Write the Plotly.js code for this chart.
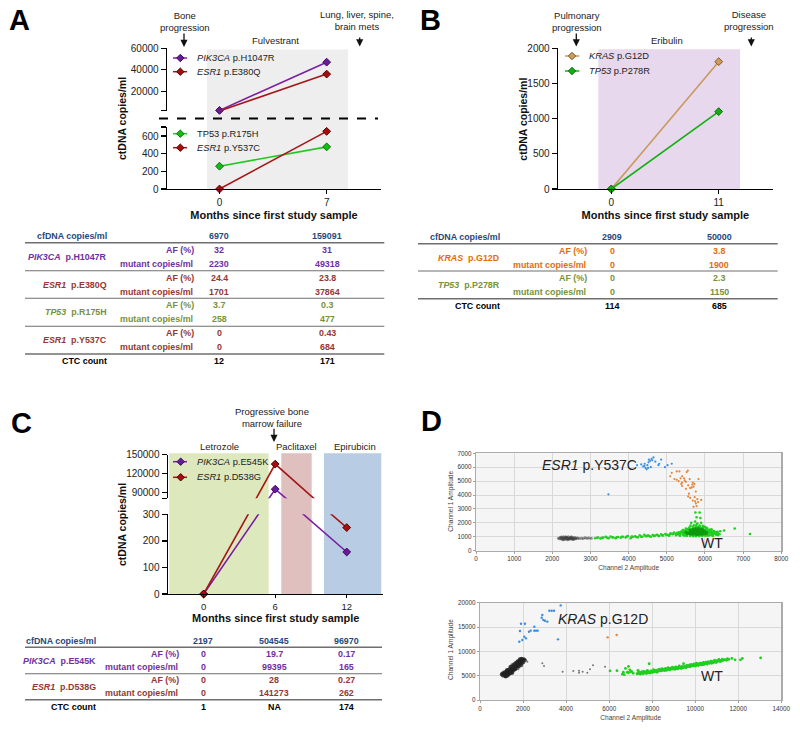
<!DOCTYPE html>
<html><head><meta charset="utf-8">
<script src="https://cdn.plot.ly/plotly-3.0.1.min.js"></script>
<style>html,body{margin:0;padding:0;background:#fff}#c{width:800px;height:730px}</style>
</head><body><div id="c"></div>
<script>
/* ---------- Panel A data ---------- */
const monthsA = [0, 7];
const pik3caH1047R = [2230, 47100];
const esr1E380Q = [1701, 36000];
const tp53R175H = [258, 477];
const esr1Y537C = [0, 653];
const tableAcols = ['6970', '159091'];
const tableArows = [
  {gene:'<i>PIK3CA</i>  p.H1047R', color:'#7030a0', af:['32','31'], mut:['2230','49318']},
  {gene:'<i>ESR1</i>  p.E380Q', color:'#953735', af:['24.4','23.8'], mut:['1701','37864']},
  {gene:'<i>TP53</i>  p.R175H', color:'#76923c', af:['3.7','0.3'], mut:['258','477']},
  {gene:'<i>ESR1</i>  p.Y537C', color:'#953735', af:['0','0.43'], mut:['0','684']}
];
const tableActc = ['12','171'];

/* ---------- Panel B data ---------- */
const monthsB = [0, 11];
const krasG12D = [0, 1810];
const tp53P278R = [0, 1100];
const tableBcols = ['2909', '50000'];
const tableBrows = [
  {gene:'<i>KRAS</i>  p.G12D', color:'#e36c0a', af:['0','3.8'], mut:['0','1900']},
  {gene:'<i>TP53</i>  p.P278R', color:'#76923c', af:['0','2.3'], mut:['0','1150']}
];
const tableBctc = ['114','685'];

/* ---------- Panel C data ---------- */
const monthsC = [0, 6, 12];
// Values as the two halves of the broken axis plot them (each half clipped by its own axis range)
const pik3caE545Klower = [0, 392, 158];
const esr1D538Glower = [0, 482, 250];
const pik3caE545Kupper = [-72400, 95000, -1600];
const esr1D538Gupper = [-70800, 135000, 33800];
const tableCcols = ['2197', '504545', '96970'];
const tableCrows = [
  {gene:'<i>PIK3CA</i>  p.E545K', color:'#7030a0', af:['0','19.7','0.17'], mut:['0','99395','165']},
  {gene:'<i>ESR1</i>  p.D538G', color:'#953735', af:['0','28','0.27'], mut:['0','141273','262']}
];
const tableCctc = ['1','NA','174'];

/* ---------- Panel D data: droplets ---------- */
const d1BlueX = [4220,4330,4380,4410,4420,4440,4470,4490,4510,4520,4530,4560,4580,4600,4620,4650,4700,4780,4800,4850,4950,5020,5130,3470];
const d1BlueY = [6150,6200,6050,6100,6250,5950,5850,6150,5950,6350,6550,6450,6000,6600,6500,6700,6400,6150,6250,6550,6000,6150,6250,4050];
const d1OrangeX = [5090,5130,5200,5260,5260,5330,5310,5360,5380,5400,5400,5400,5450,5470,5500,5520,5550,5500,5560,5600,5610,5650,5670,5680,5700,5720,5580,5560,5610,5680,5730,5740,5760,5760,5800,5820,5780,5700,5900,5830];
const d1OrangeY = [5350,5600,5150,5100,5700,5700,5000,5200,4800,5350,4650,4900,5200,5050,4950,5650,5750,4450,4700,5150,4500,4550,4750,4900,4600,4800,4100,3900,3800,3600,3850,3550,3400,4250,3700,3500,3200,3150,3650,5150];
const d1GreenX = [3120,3170,3200,3260,3300,3340,3400,3440,3480,3530,3570,3600,3660,3690,3720,3790,3820,3850,3920,3950,3980,4050,4080,4110,4170,4200,4240,4290,4330,4360,4410,4440,4470,4510,4550,4580,4630,4660,4690,4740,4770,4800,4850,4880,4900,4960,4990,5010,5060,5080,5100,5150,5170,5190,5230,5270,
 5240,5290,5320,5350,5380,5410,5440,5470,5490,5520,5540,5570,5590,5620,5640,5670,5690,5720,5740,5770,5790,5820,5840,5870,5890,5920,5940,5970,5990,6020,6040,6070,6090,6120,6140,6170,6200,6230,6260,6290,6330,
 5360,5430,5510,5580,5660,5730,5810,5880,5960,6030,6110,6180,6260,5300,5400,5480,5560,5640,5720,5800,5880,5960,6040,6120,6200,
 5450,5530,5610,5690,5760,5850,5930,6010,6090,6170,5500,5590,5680,5770,5860,5950,6040,5620,5710,5780,5860,5940,
 5750,5860,5780,5880,5640,5740,5800,5900,6780,7180,6500,6400,
 5250,5310,5370,5430,5480,5530,5270,5340,5400,5460,5520,5590,5350,5420,5490,5550,6000,6060,6120,6170,6230,6290,6340,6380,6050,6110,6160,6220,6280,6340,6100,6160,6210,6270];
const d1GreenY = [900,930,950,880,920,950,1000,920,900,1020,960,950,900,960,980,930,1000,1000,950,1010,1050,900,1010,1000,1030,980,960,1100,1010,1000,1150,1050,1050,1100,1040,1000,1120,1060,1080,1150,1090,1050,1180,1110,1100,1200,1120,1150,1080,1180,1250,1180,1230,1300,1200,1280,
 1120,1180,1320,1210,1380,1260,1190,1440,1290,1130,1500,1210,1380,1120,1560,1300,1180,1620,1250,1440,1120,1680,1340,1120,1560,1260,1640,1150,1450,1270,1560,1130,1400,1230,1480,1330,1200,1400,1270,1150,1350,
 1280,1340,1420,1480,1540,1600,1640,1620,1560,1490,1430,1360,1290,1230,1300,1350,1400,1470,1520,1560,1520,1460,1400,1330,1260,
 1090,1080,1060,1050,1040,1050,1060,1070,1090,1110,1590,1660,1720,1760,1740,1700,1640,1800,1830,1880,1810,1790,
 2750,2750,2400,2350,2000,2100,1950,2000,1600,1200,1450,1400,
 1140,1200,1260,1150,1300,1350,1240,1090,1360,1230,1440,1510,1070,1480,1100,1560,1710,1600,1500,1540,1410,1330,1250,1180,1090,1120,1280,1200,1320,1120,1450,1390,1060,1220];
const d1DarkX = [5500,5560,5620,5680,5710,5740,5770,5800,5820,5850,5880,5910,5940,5970,6000,6050,5650,5700,5760,5810,5860,5900,5950,5720,5780,5840,5890,5540,5600,5660,5730,5790,5850,5920,5980,6030,5610,5690,5760,5830,5910,5990];
const d1DarkY = [1320,1280,1350,1300,1450,1250,1400,1300,1500,1350,1250,1450,1320,1400,1280,1300,1420,1250,1550,1380,1500,1350,1480,1350,1200,1250,1420,1230,1210,1180,1180,1170,1180,1190,1210,1230,1480,1540,1600,1590,1560,1400];
const d1GreyX = [2160,2190,2210,2230,2250,2270,2290,2300,2320,2340,2350,2370,2390,2400,2420,2430,2450,2470,2480,2500,2520,2530,2550,2570,2590,2610,2630,2660,2700,2240,2280,2330,2380,2410,2460,2510,2560,2760,2810,2860,2910,2960,3020];
const d1GreyY = [900,850,960,880,820,930,1000,870,800,950,1010,840,900,780,1000,880,820,950,850,1000,880,800,930,860,950,850,900,920,880,980,790,890,960,860,900,950,830,900,880,930,890,920,900];
const d2BlueX = [1827,1967,2060,2137,1858,1905,2090,2276,2354,2524,2602,2679,2524,2865,2896,2942,3020,3128,3221,3330,3438,3748,3624];
const d2BlueY = [11985,12330,13010,12670,14180,15680,15680,14040,14250,14250,14250,14250,15070,16920,17470,16440,16300,16100,18360,18360,18360,19450,12470];
const d2OrangeX = [5931,6350];
const d2OrangeY = [12880,13360];
const d2GreyX = [1000,1050,1100,1100,1150,1150,1200,1200,1250,1250,1300,1300,1350,1350,1400,1400,1450,1450,1500,1500,1550,1550,1600,1600,1650,1650,1700,1700,1750,1750,1800,1800,1850,1850,1900,1900,1950,1950,2000,2050,2100,1200,1300,1400,1500,1600,1700,1800,1900,1080,1280,1480,1680,1880,
 1020,1120,1180,1260,1340,1420,1520,1620,1720,1820,1920,2020,1090,1170,1240,1330,1410,1500,1580,1660,1740,1840,1930,2040,1140,1230,1320,1440,1560,1640,1780,1880,1980,1210,1360,1470,1590,1710,1830,1960];
const d2GreyY = [5250,5000,5700,5300,4900,5500,5100,5900,5400,6200,5000,5700,6000,5300,6500,5700,6100,6800,5500,6400,7000,6100,6600,7300,6300,7000,7600,6800,7200,8000,6800,7600,8200,7400,7900,8400,7500,8200,8000,8300,8150,5500,5400,6100,6000,6200,7200,7200,7400,5300,5800,6300,6700,7800,
 5450,5150,4800,5750,5550,5450,5800,6400,6500,7000,7100,7700,5500,5700,6000,6300,6900,7200,7400,7700,7900,8400,8500,8400,5200,4850,5300,6300,6500,7000,7300,7700,8400,5200,6150,5800,6900,7400,8000,7900];
const d2SparseX = [2200,1780,2896,2973,3840,4336,4600,4600,4770,4987,5110,5250,5808];
const d2SparseY = [7880,6300,7530,6990,5820,5960,6030,5620,5820,5620,6300,7120,6850];
const d2GreenX = [6040,6365,6620,6660,6700,6760,6850,6900,6960,7040,7120,7300,7340,7380,7420,7450,7500,7540,7580,7620,7660,7700,7740,7780,7820,7860,7900,7940,7980,8020,8060,8100,8140,8180,8220,8260,8300,8340,8380,8420,8460,8500,8540,8580,8620,8660,8700,8740,8780,8820,8860,8900,8940,8980,9020,9060,9100,9140,9180,9220,9260,9300,9340,9380,9420,9460,9500,9540,9580,9620,9660,9700,9740,9780,9820,9860,9900,9940,9980,10020,10060,10100,10140,10180,10220,10260,10300,10340,10380,10420,10460,10500,10540,10580,10620,10660,10700,10740,10780,10820,10860,10900,10940,10980,11020,11060,11100,11140,11180,11220,11260,11300,11340,11400,11450,11500,11560,11700,11850,12100,12190,13040,
 7400,7600,7800,8000,8200,8400,8600,8800,9000,9200,9400,9600,9800,10000,10200,10400,10600,10800,11000,11200,7880,8300,9140,10280,6900,7000,
 7360,7480,7560,7680,7760,7840,7960,8040,8120,8240,8320,8440,8520,8640,8720,8840,8960,9040,9160,9240,9360,9440,9560,9640,9760,9840,9960,10040,10160,10240,10360,10440,10560,10640,10760,10840,10960,11040,11160];
const d2GreenY = [6000,6030,5300,5700,5200,6500,5700,6900,6200,5900,5500,5400,6100,5500,5700,5300,5650,5850,5400,5900,5550,5800,5450,6100,5650,7450,5550,6000,5750,5650,6250,5800,5950,6050,5700,6200,5950,6350,6000,6150,6450,6100,6300,6050,6500,6250,6150,6650,6300,6200,6550,6400,6750,6350,6600,6300,6800,6500,6650,6450,7000,6700,6500,6850,6600,7450,6750,6950,6700,7100,6850,7050,7200,6900,7300,7050,7150,7400,7100,7000,7550,7250,7100,7450,7300,7600,7200,7500,7750,7350,7550,7800,7450,7650,7900,7550,7750,8000,7650,7850,7700,8200,7900,7750,8100,8000,8350,7950,8150,8000,8400,8150,8250,8300,8150,8500,8350,8550,8250,8250,8550,8650,
 5500,5600,5750,5850,6000,6150,6300,6450,6550,6700,6850,7000,7100,7250,7400,7550,7650,7800,7950,8050,5700,6050,6550,7350,5600,5800,
 5700,5450,5800,5620,5780,5620,5900,5820,6100,5900,6120,6000,6260,6100,6380,6250,6420,6550,6380,6700,6560,6820,6640,6960,6820,7080,7000,7300,7180,7420,7260,7600,7400,7700,7540,7860,7760,8060,7900];

/* ---------- helpers ---------- */
const W = 800, H = 730, FONT = '"Liberation Sans", Arial, sans-serif';
const fx = p => p / W, fy = p => 1 - p / H;
const anns = [], shapes = [];
function note(text, x, y, size, color, anchor, bold, extra) {
  anns.push(Object.assign({text: bold ? '<b>' + text + '</b>' : text, x: fx(x), y: fy(y), xref:'paper', yref:'paper',
    xanchor: anchor || 'center', yanchor:'middle', showarrow:false, align: anchor || 'center', borderpad:0,
    font:{family:FONT, size:size, color:color || '#222'}}, extra || {}));
}
function downArrow(x, y0, y1) {
  anns.push({text:'', x:fx(x), y:fy(y1), xref:'paper', yref:'paper', ax:0, ay:y0 - y1, axref:'pixel', ayref:'pixel',
    showarrow:true, arrowhead:2, arrowsize:1.1, arrowwidth:1.3, arrowcolor:'#111', standoff:0});
}
function pline(x0, y0, x1, y1, color, width, dash) {
  shapes.push({type:'line', xref:'paper', yref:'paper', x0:fx(x0), x1:fx(x1), y0:fy(y0), y1:fy(y1),
    line:{color:color, width:width, dash:dash || 'solid'}, layer:'above'});
}
function legendKey(x0, x1, y, xm, xt, line, fill, edge, label) {
  pline(x0, y, x1, y, line, 1.5);
  const r = 3.7;
  shapes.push({type:'path', xref:'paper', yref:'paper', layer:'above', fillcolor:fill, line:{color:edge, width:1},
    path:'M ' + fx(xm - r) + ' ' + fy(y) + ' L ' + fx(xm) + ' ' + fy(y - r) + ' L ' + fx(xm + r) + ' ' + fy(y) + ' L ' + fx(xm) + ' ' + fy(y + r) + ' Z'});
  note(label, xt, y, 9.3, '#222', 'left');
}
function band(xref, a, b, top, bottom, color) {
  shapes.push({type:'rect', xref:xref, yref:'paper', x0:a, x1:b, y0:fy(bottom), y1:fy(top), fillcolor:color, line:{width:0}, layer:'below'});
}
function panelBg(l, r, t, b) {
  shapes.push({type:'rect', xref:'paper', yref:'paper', x0:fx(l), x1:fx(r), y0:fy(b), y1:fy(t), fillcolor:'#f5f5f5', line:{width:0}, layer:'below'});
}
function table(t) {
  const HC = '#1f497d', FS = 8.9;
  note('cfDNA copies/ml', t.geneR, t.headY, FS, HC, 'right', true);
  t.cols.forEach((v, i) => note(v, t.colX[i], t.headY, FS, HC, 'center', true));
  t.rules.forEach((y, i) => pline(t.x0, y, t.x1, y, '#6f6f6f', (i === 0 || i === t.rules.length - 1) ? 1.6 : 1.1));
  t.rows.forEach((r, i) => {
    const ya = t.rowY[2 * i], ym = t.rowY[2 * i + 1];
    note(r.gene, t.geneR, (ya + ym) / 2, FS, r.color, 'right', true);
    note('AF (%)', t.afR, ya, FS, r.color, 'right', true);
    note('mutant copies/ml', t.mutR, ym, FS, r.color, 'right', true);
    r.af.forEach((v, j) => note(v, t.colX[j], ya, FS, r.color, 'center', true));
    r.mut.forEach((v, j) => note(v, t.colX[j], ym, FS, r.color, 'center', true));
  });
  note('CTC count', t.geneR, t.ctcY, FS, '#000', 'right', true);
  t.ctc.forEach((v, j) => note(v, t.colX[j], t.ctcY, FS, '#000', 'center', true));
}
function line(x, y, xa, ya, col, fill, edge, markers) {
  return {type:'scatter', mode: markers ? 'lines+markers' : 'lines', x:x, y:y, xaxis:xa, yaxis:ya, showlegend:false, hoverinfo:'skip',
    cliponaxis: !markers, line:{color:col, width:1.6},
    marker:{symbol:'diamond', size:6, color:fill, line:{color:edge, width:1}}};
}
function dots(x, y, xa, ya, col, size, op) {
  return {type:'scatter', mode:'markers', x:x, y:y, xaxis:xa, yaxis:ya, showlegend:false, hoverinfo:'skip',
    marker:{symbol:'circle', size:size, color:col, opacity:op || 1, line:{width:0}}};
}
const yAxisBase = (l, t, b, range, vals, text) => ({
  domain:[fy(b), fy(t)], range:range, anchor:'x', tickmode:'array', tickvals:vals, ticktext:text,
  ticks:'outside', ticklen:5, tickwidth:1.3, tickcolor:'#000', showline:true, linecolor:'#000', linewidth:1.4,
  showgrid:false, zeroline:false, tickfont:{family:FONT, size:10, color:'#222'}, fixedrange:true
});
const xAxisBase = (l, r, range, vals, anchor, standoff) => ({
  domain:[fx(l), fx(r)], range:range, anchor:anchor, tickmode:'array', tickvals:vals, ticktext:vals.map(String),
  ticks:'outside', ticklen:4, tickwidth:1.3, tickcolor:'#000', showline:true, linecolor:'#000', linewidth:1.4,
  showgrid:false, zeroline:false, tickfont:{family:FONT, size:10, color:'#222'}, fixedrange:true,
  title:{text:'<b>Months since first study sample</b>', font:{family:FONT, size:11, color:'#111'}, standoff:standoff}
});
const dAxis = (l, r, range, step, anchor, title) => ({
  domain:[fx(l), fx(r)], range:range, anchor:anchor, tick0:0, dtick:step, ticks:'outside', ticklen:2, tickwidth:0.8, tickcolor:'#888',
  showline:true, mirror:true, linecolor:'#ababab', linewidth:1.2, showgrid:true, gridcolor:'#d9d9d9', gridwidth:1, zeroline:false,
  tickfont:{family:FONT, size:6.3, color:'#333'}, fixedrange:true, tickformat:'d',
  title:{text:title, font:{family:FONT, size:6.6, color:'#444'}, standoff:4}
});

/* ---------- traces ---------- */
const PUR='#7a1fa2', PURF='#6a1b9a', PURE='#3a0a5a', RED='#a51616', REDF='#a60e0e', REDE='#5a0000',
      GRN='#22c822', GRNF='#10c010', GRNE='#0b6a0b', GB='#10b010', TAN='#c9995c', TANF='#d09c58', TANE='#7a5a2e';
const traces = [
  line(monthsA, pik3caH1047R, 'x', 'y', PUR, PURF, PURE, true),
  line(monthsA, esr1E380Q, 'x', 'y', RED, REDF, REDE, true),
  line(monthsA, tp53R175H, 'x', 'y2', GRN, GRNF, GRNE, true),
  line(monthsA, esr1Y537C, 'x', 'y2', RED, REDF, REDE, true),
  line(monthsB, krasG12D, 'x2', 'y3', TAN, TANF, TANE, true),
  line(monthsB, tp53P278R, 'x2', 'y3', GB, GB, GRNE, true),
  line(monthsC, pik3caE545Kupper, 'x3', 'y4', PUR),
  line(monthsC, esr1D538Gupper, 'x3', 'y4', RED),
  line(monthsC, pik3caE545Klower, 'x3', 'y5', PUR),
  line(monthsC, esr1D538Glower, 'x3', 'y5', RED),
  Object.assign(line([6], [pik3caE545Kupper[1]], 'x3', 'y4', PUR, PURF, PURE, true), {mode:'markers'}),
  Object.assign(line([6], [esr1D538Gupper[1]], 'x3', 'y4', RED, REDF, REDE, true), {mode:'markers'}),
  Object.assign(line([0, 12], [pik3caE545Klower[0], pik3caE545Klower[2]], 'x3', 'y5', PUR, PURF, PURE, true), {mode:'markers'}),
  Object.assign(line([0, 12], [esr1D538Glower[0], esr1D538Glower[2]], 'x3', 'y5', RED, REDF, REDE, true), {mode:'markers'}),
  dots(d1GreyX, d1GreyY, 'x4', 'y6', '#3a3a3a', 3, 0.55),
  dots(d1GreenX, d1GreenY, 'x4', 'y6', '#1fd01f', 2.6),
  dots(d1DarkX, d1DarkY, 'x4', 'y6', '#0f9a0f', 3),
  dots(d1OrangeX, d1OrangeY, 'x4', 'y6', '#e8853a', 2.2),
  dots(d1BlueX, d1BlueY, 'x4', 'y6', '#3b8ee8', 2.2),
  dots(d2GreyX, d2GreyY, 'x5', 'y7', '#222222', 3.6, 0.75),
  dots(d2SparseX, d2SparseY, 'x5', 'y7', '#777777', 2),
  dots(d2GreenX, d2GreenY, 'x5', 'y7', '#1fd01f', 2.8),
  dots(d2OrangeX, d2OrangeY, 'x5', 'y7', '#e8853a', 2.4),
  dots(d2BlueX, d2BlueY, 'x5', 'y7', '#3b8ee8', 2.4)
];

/* ---------- decoration ---------- */
band('x', -0.82, 8.4, 49.5, 189, '#eeeeee');
band('x2', -1.33, 13.19, 49.3, 189, '#e8d8ed');
band('x3', -2.89, 5.45, 453.3, 594, '#dde8bd');
band('x3', 6.51, 9.06, 453.3, 594, '#e0bfbf');
band('x3', 10.09, 14.9, 453.3, 594, '#b8cde3');
panelBg(476, 781.3, 453.3, 550.7);
panelBg(480, 781.3, 602.7, 700);
pline(159, 118.5, 378, 118.5, '#000', 1.8, 'dash');

// panel letters
note('A', 19.5, 20, 29, '#000', 'center', true);
note('B', 431, 20, 29, '#000', 'center', true);
note('C', 21, 422.5, 29, '#000', 'center', true);
note('D', 431.5, 421, 29, '#000', 'center', true);

// A
note('Bone<br>progression', 185, 21, 9.5);
downArrow(184, 32, 47);
note('Lung, liver, spine,<br>brain mets', 357, 20.5, 9.5);
downArrow(359.7, 36, 46.5);
note('Fulvestrant', 275, 40, 9.5);
note('<b>ctDNA copies/ml</b>', 122, 119, 10.5, '#111', 'center', false, {textangle:-90});
legendKey(173, 187, 58, 180.3, 196, PUR, PURF, PURE, '<i>PIK3CA</i> p.H1047R');
legendKey(173, 187, 71.7, 180.3, 196, RED, REDF, REDE, '<i>ESR1</i> p.E380Q');
legendKey(173, 187, 133.7, 180.3, 196, GRN, GRNF, GRNE, 'TP53 p.R175H');
legendKey(173, 187, 147.7, 180.3, 196, RED, REDF, REDE, '<i>ESR1</i> p.Y537C');
table({cols:tableAcols, rows:tableArows, ctc:tableActc, colX:[219,327], geneR:107.5, afR:194.8, mutR:193.5, x0:25, x1:384.3,
  headY:236.3, ctcY:361, rules:[242.7,270.7,298.3,326.3,354], rowY:[250,264,278,292,305,319.5,333,347]});

// B
note('Pulmonary<br>progression', 577, 21, 9.5);
downArrow(576.3, 32, 46.5);
note('Disease<br>progression', 749, 20, 9.5);
downArrow(751.3, 36, 46.5);
note('Eribulin', 667, 40, 9.5);
note('<b>ctDNA copies/ml</b>', 522.7, 119, 10.5, '#111', 'center', false, {textangle:-90});
legendKey(565, 579.3, 56, 572, 587.7, TAN, TANF, TANE, '<i>KRAS</i> p.G12D');
legendKey(565, 579.3, 71, 572, 587.7, GB, GB, GRNE, '<i>TP53</i> p.P278R');
table({cols:tableBcols, rows:tableBrows, ctc:tableBctc, colX:[612.3,719], geneR:500.5, afR:587.8, mutR:586.5, x0:418, x1:777.7,
  headY:236.7, ctcY:306.3, rules:[243.7,271,298.7], rowY:[250.7,264.7,278.3,292.3]});

// C
note('Progressive bone<br>marrow failure', 271.7, 417, 9.5);
downArrow(274, 427.3, 442);
note('Letrozole', 219.3, 446, 9.5);
note('Paclitaxel', 296.3, 446, 9.5);
note('Epirubicin', 354.7, 446, 9.5);
note('<b>ctDNA copies/ml</b>', 122, 525, 10.5, '#111', 'center', false, {textangle:-90});
note('<b>Months since first study sample</b>', 275.7, 617.5, 11, '#111');
legendKey(173, 187, 461.7, 180.7, 196, PUR, PURF, PURE, '<i>PIK3CA</i> p.E545K');
legendKey(173, 187, 477.3, 180.7, 196, RED, REDF, REDE, '<i>ESR1</i> p.D538G');
table({cols:tableCcols, rows:tableCrows, ctc:tableCctc, colX:[203.3,274,346], geneR:97.2, afR:180.2, mutR:178.5, x0:25, x1:382,
  headY:641.3, ctcY:706.7, rules:[647.3,673.7,699.7], rowY:[654.3,667.3,680.3,693.3]});

// D
note('<i>ESR1</i> p.Y537C', 589, 465, 14, '#222');
note('WT', 712, 543, 14, '#222');
note('<i>KRAS</i> p.G12D', 602.5, 619, 14, '#222');
note('WT', 711.7, 675.7, 14, '#222');
note('Channel 1 Amplitude', 451, 501.7, 6.6, '#444', 'center', false, {textangle:-90});
note('Channel 1 Amplitude', 451, 650, 6.6, '#444', 'center', false, {textangle:-90});

/* ---------- layout ---------- */
const xC = xAxisBase(167.9, 382.5, [-3, 15], monthsC, 'y5', 1);
delete xC.title;
xC.ticklen = 3;
xC.tickfont = {family:FONT, size:9.5, color:'#222'};
const layout = {
  width:W, height:H, margin:{l:0,r:0,t:0,b:0}, paper_bgcolor:'#fff', plot_bgcolor:'rgba(0,0,0,0)', showlegend:false,
  font:{family:FONT},
  xaxis: xAxisBase(167, 381, [-3.43, 10.55], monthsA, 'y2', 4),
  yaxis: yAxisBase(167, 48.3, 110.5, [2140, 60000], [2140, 20000, 40000, 60000], ['', '20000', '40000', '60000']),
  yaxis2: yAxisBase(167, 127, 189, [0, 702], [0, 200, 400, 600, 702], ['0', '200', '400', '600', '']),
  xaxis2: xAxisBase(558, 772.7, [-5.46, 16.53], monthsB, 'y3', 4),
  yaxis3: Object.assign(yAxisBase(558, 48.3, 189, [0, 2000], [0, 500, 1000, 1500, 2000], ['0','500','1000','1500','2000']), {anchor:'x2'}),
  xaxis3: xC,
  yaxis4: Object.assign(yAxisBase(167.9, 454.7, 498.3, [80500, 150000], [80500, 90000, 120000, 150000], ['', '90000', '120000', '150000']), {anchor:'x3'}),
  yaxis5: Object.assign(yAxisBase(167.9, 514.3, 594, [0, 300], [0, 100, 200, 300], ['0','100','200','300']), {anchor:'x3'}),
  xaxis4: dAxis(476, 781.3, [0, 8000], 1000, 'y6', 'Channel 2 Amplitude'),
  yaxis6: Object.assign(dAxis(0, 0, [0, 7000], 1000, 'x4', ''), {domain:[fy(550.7), fy(453.3)]}),
  xaxis5: dAxis(480, 781.3, [0, 14000], 2000, 'y7', 'Channel 2 Amplitude'),
  yaxis7: Object.assign(dAxis(0, 0, [0, 20000], 5000, 'x5', ''), {domain:[fy(700), fy(602.7)]}),
  shapes:shapes, annotations:anns
};
Plotly.newPlot('c', traces, layout, {staticPlot:true, displayModeBar:false});
</script></body></html>
